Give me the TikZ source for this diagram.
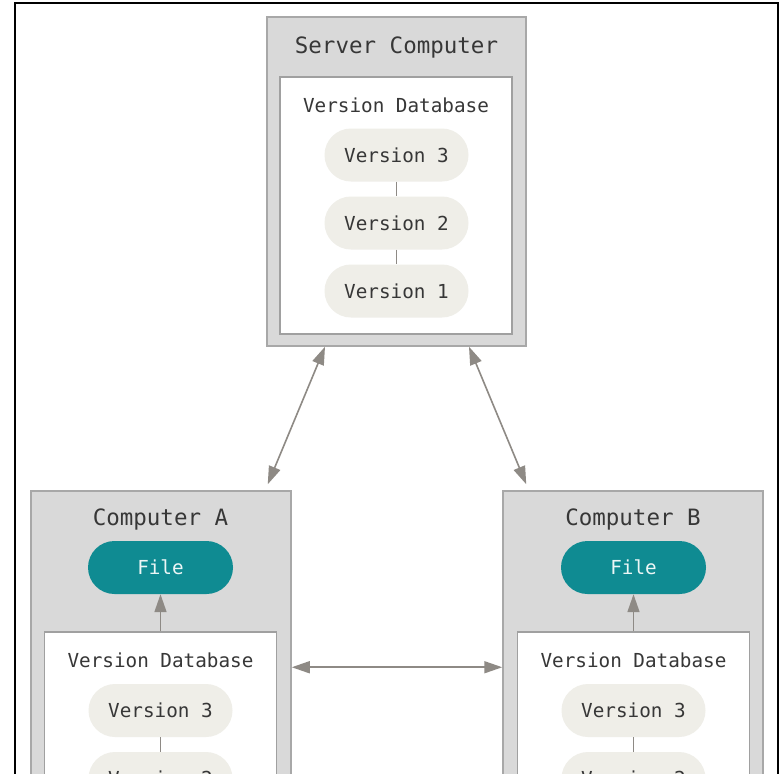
\documentclass[tikz,border=0pt]{standalone}
\usepackage{fontspec}
\setmonofont{DejaVu Sans Mono}
\usetikzlibrary{arrows.meta,calc}
\definecolor{outerfill}{RGB}{217,217,217}
\definecolor{outerline}{RGB}{168,168,168}
\definecolor{innerline}{RGB}{160,160,160}
\definecolor{pillfill}{RGB}{239,238,232}
\definecolor{txt}{RGB}{55,55,55}
\definecolor{teal}{RGB}{15,139,146}
\definecolor{arrcol}{RGB}{142,138,133}
\tikzset{
  outerbox/.style={draw=outerline, fill=outerfill, line width=1.5pt, minimum width=#1, inner sep=0pt},
  innerbox/.style={draw=innerline, fill=white, line width=1.5pt, inner sep=0pt},
  titletext/.style={text=txt, font=\ttfamily\fontsize{22.5}{26}\selectfont, inner sep=0pt},
  labeltext/.style={text=txt, font=\ttfamily\fontsize{19.3}{23}\selectfont, inner sep=0pt},
  pill/.style={rounded corners=26.5pt, fill=pillfill, minimum width=144pt, minimum height=53pt, text=txt, font=\ttfamily\fontsize{19.3}{23}\selectfont, inner sep=0pt},
  filepill/.style={rounded corners=26.5pt, fill=teal, minimum width=145pt, minimum height=53pt, text=white!92!teal, font=\ttfamily\fontsize{19.3}{23}\selectfont, inner sep=0pt},
  link/.style={draw=arrcol, line width=1.3pt},
  arr/.style={draw=arrcol, line width=1.6pt, -{Triangle[length=18pt,width=12pt]}},
  darr/.style={draw=arrcol, line width=1.6pt, {Triangle[length=18pt,width=12pt]}-{Triangle[length=18pt,width=12pt]}},
}
\begin{document}
\begin{tikzpicture}[x=1pt,y=-1pt]
\useasboundingbox (0,0) rectangle (780,774);
\fill[white] (0,0) rectangle (780,774);
% frame
\draw[black, line width=1.8pt] (15,880) -- (15,3) -- (778,3) -- (778,880);

% Server computer
\node[outerbox=259pt, minimum height=329pt] (server) at (396.5,181.5) {};
\node[innerbox, minimum width=232pt, minimum height=257pt] (sdb) at (396,205.5) {};
\node[titletext] (stitle) at (396.5,47) {Server Computer};
\node[labeltext] (slabel) at (396,105) {Version Database};
\node[pill] (sv3) at (396.5,155) {Version 3};
\node[pill] (sv2) at (396.5,223) {Version 2};
\node[pill] (sv1) at (396.5,291) {Version 1};
\draw[link] (sv3.south) -- (sv2.north);
\draw[link] (sv2.south) -- (sv1.north);

% Computer A
\node[outerbox=260pt, minimum height=420pt] (compA) at (161,701) {};
\node[innerbox, minimum width=232pt, minimum height=260pt] (adb) at (160.5,762) {};
\node[titletext] (atitle) at (160.5,519) {Computer A};
\node[filepill] (afile) at (160.5,567.5) {File};
\node[labeltext] (alabel) at (160.5,660) {Version Database};
\node[pill] (av3) at (160.5,710.5) {Version 3};
\node[pill] (av2) at (160.5,778.5) {Version 2};
\draw[link] (av3.south) -- (av2.north);
\draw[arr] (adb.north) -- (afile.south);

% Computer B
\node[outerbox=260pt, minimum height=420pt] (compB) at (633,701) {};
\node[innerbox, minimum width=232pt, minimum height=260pt] (bdb) at (633.5,762) {};
\node[titletext] (btitle) at (633,519) {Computer B};
\node[filepill] (bfile) at (633.5,567.5) {File};
\node[labeltext] (blabel) at (633.5,660) {Version Database};
\node[pill] (bv3) at (633.5,710.5) {Version 3};
\node[pill] (bv2) at (633.5,778.5) {Version 2};
\draw[link] (bv3.south) -- (bv2.north);
\draw[arr] (bdb.north) -- (bfile.south);

% connectors between computers
\coordinate (s1) at ($(server.south)+(-71.5,0)$);
\coordinate (s2) at ($(server.south)+(72.5,0)$);
\coordinate (a1) at ($(compA.north east)+(-24,-6)$);
\coordinate (b1) at ($(compB.north west)+(24,-6)$);
\draw[darr] (s1) -- (a1);
\draw[darr] (s2) -- (b1);
\coordinate (ah) at ($(compA.north east)+(0,177)$);
\coordinate (bh) at ($(compB.north west)+(0,177)$);
\draw[darr] (ah) -- (bh);
\end{tikzpicture}
\end{document}
